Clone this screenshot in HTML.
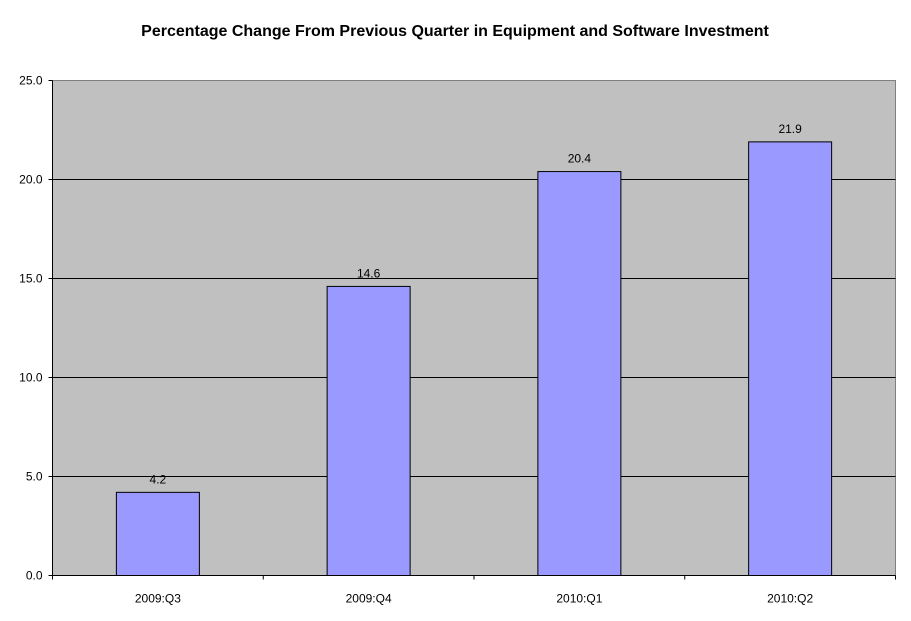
<!DOCTYPE html>
<html><head><meta charset="utf-8"><style>
body{margin:0;background:#fff;}
svg{display:block;font-family:"Liberation Sans",Arial,sans-serif;}
</style></head><body>
<svg id="chart" width="911" height="621" xmlns="http://www.w3.org/2000/svg">
<text x="455" y="36" text-anchor="middle" font-size="16" font-weight="bold">Percentage Change From Previous Quarter in Equipment and Software Investment</text>
<rect x="52.5" y="80.5" width="843" height="495" fill="#c0c0c0" stroke="#808080"/>
<g id="grid"></g><g id="bars"></g><g id="axes"></g>
</svg>
<script>
const categories=["2009:Q3","2009:Q4","2010:Q1","2010:Q2"];
const values=[4.2,14.6,20.4,21.9];
const valueLabels=["4.2","14.6","20.4","21.9"];
const yTicks=[0,5,10,15,20,25];
const yTickLabels=["0.0","5.0","10.0","15.0","20.0","25.0"];
const L=52.5,R=895.5,T=80.5,B=575.5,yMax=25;
const y=v=>B-(v/yMax)*(B-T);
const band=(R-L)/categories.length;
const x=i=>L+band*i;
const NS="http://www.w3.org/2000/svg";
function mk(tag,attrs,parent,text){const e=document.createElementNS(NS,tag);for(const k in attrs)e.setAttribute(k,attrs[k]);if(text!==undefined)e.textContent=text;document.getElementById(parent).appendChild(e);return e;}
yTicks.forEach((t,i)=>{
  const yy=Math.floor(y(t))+0.5;
  if(t>0&&t<yMax){const g=mk("line",{x1:L,x2:R,y1:yy,y2:yy,stroke:"#000","stroke-width":1},"grid");
  
  }
  const tk=mk("line",{x1:L-4,x2:L,y1:yy,y2:yy,stroke:"#000"},"axes");
  
  
  const lb=mk("text",{x:L-10,y:yy+4,"text-anchor":"end","font-size":12},"axes",yTickLabels[i]);
  
  
});
const ax=mk("line",{x1:L,x2:L,y1:T,y2:B,stroke:"#000"},"axes");


const xa=mk("line",{x1:L,x2:R,y1:B,y2:B,stroke:"#000"},"axes");


for(let i=0;i<=categories.length;i++){
  const t=mk("line",{x1:x(i),x2:x(i),y1:B,y2:B+4,stroke:"#000"},"axes");
  
  
}
const bw=83;
categories.forEach((c,i)=>{
  const cx=x(i)+band/2;
  const b=mk("rect",{x:cx-bw/2,y:y(values[i]),width:bw,height:B-y(values[i]),fill:"#9999ff",stroke:"#000","stroke-width":1},"bars");
  
  
  const v=mk("text",{x:cx,y:y(values[i])-9,"text-anchor":"middle","font-size":12},"bars",valueLabels[i]);
  
  
  const l=mk("text",{x:cx,y:B+27,"text-anchor":"middle","font-size":12},"axes",c);
  
  
});
</script>
</body></html>
